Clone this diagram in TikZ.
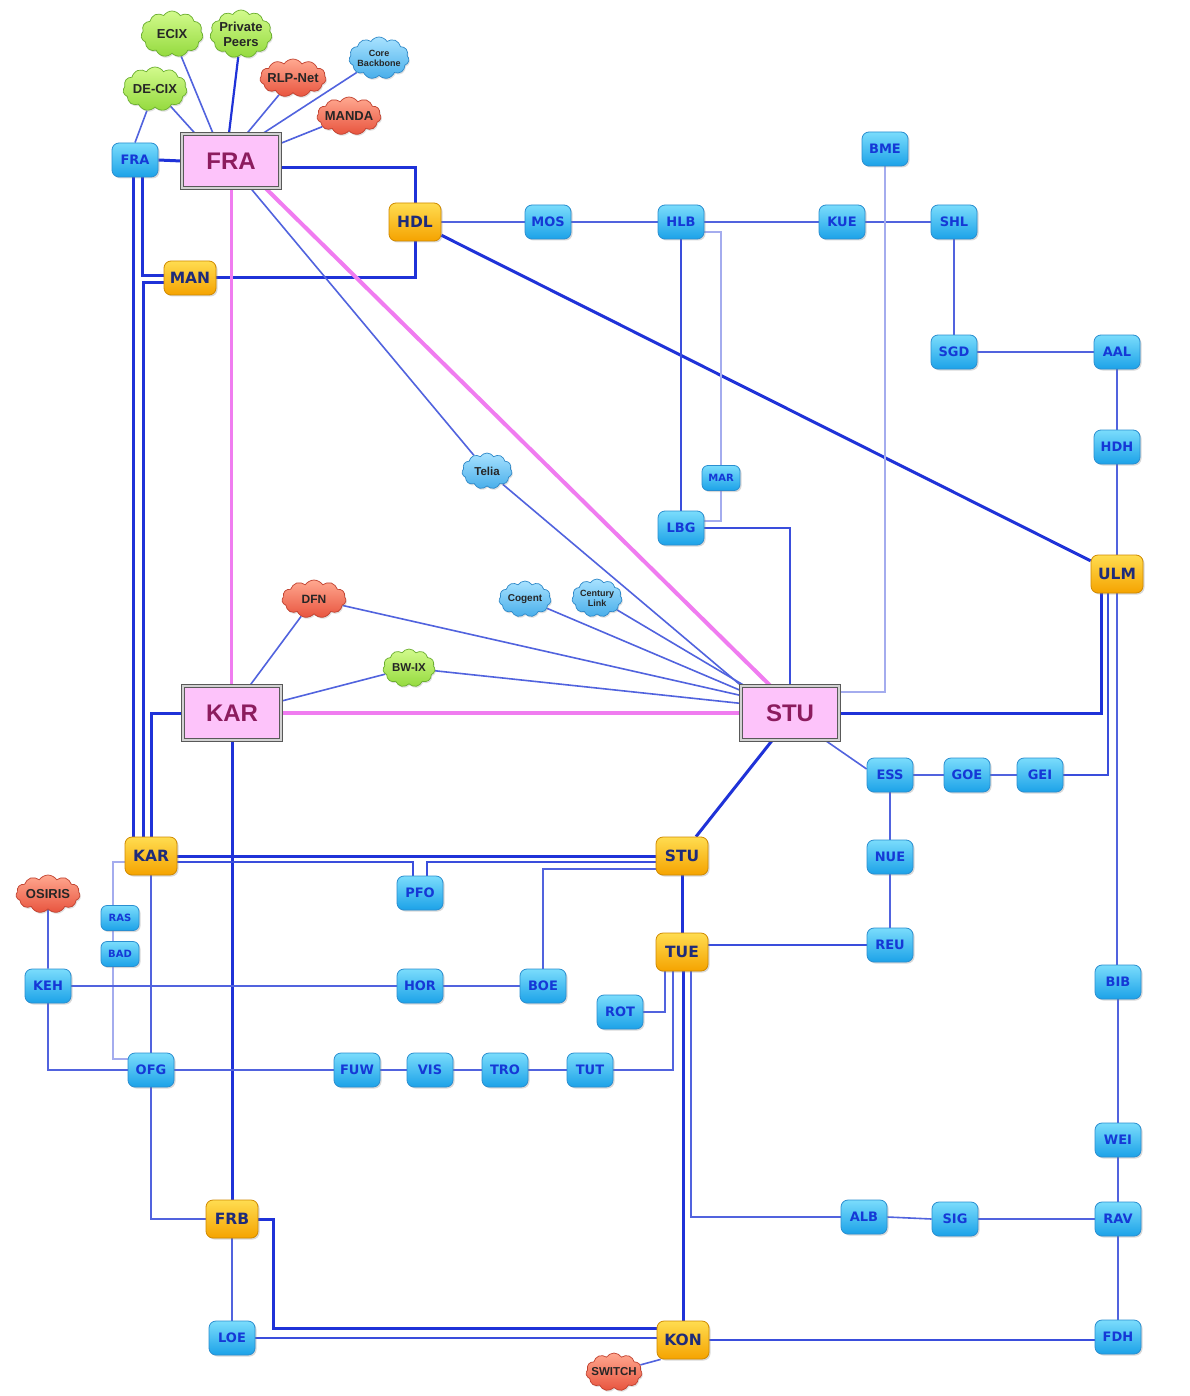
\documentclass[tikz,border=0pt]{standalone}
\usepackage{fontspec}
\setmainfont{DejaVu Sans}
\newfontfamily\bigfont{Liberation Sans}
\usetikzlibrary{shapes.symbols,shadows,calc}
\pgfdeclarelayer{bg}
\pgfsetlayers{bg,main}
\definecolor{bTop}{HTML}{7ADCFC}
\definecolor{bBot}{HTML}{1CA2E8}
\definecolor{bEdge}{HTML}{2A8ED0}
\definecolor{bText}{HTML}{1538D6}
\definecolor{yTop}{HTML}{FFDC50}
\definecolor{yBot}{HTML}{F5A300}
\definecolor{yEdge}{HTML}{D08A00}
\definecolor{yText}{HTML}{1E2B7A}
\definecolor{pFill}{HTML}{FDC3FA}
\definecolor{pText}{HTML}{8C1C5E}
\definecolor{gTop}{HTML}{D2FA8C}
\definecolor{gBot}{HTML}{94DA3E}
\definecolor{gEdge}{HTML}{6AAE2E}
\definecolor{rTop}{HTML}{FFA890}
\definecolor{rBot}{HTML}{E8543E}
\definecolor{rEdge}{HTML}{C0402E}
\definecolor{cTop}{HTML}{A8E2FF}
\definecolor{cBot}{HTML}{48AEEA}
\definecolor{cEdge}{HTML}{2E88C8}
\definecolor{lnStrong}{HTML}{1F32D8}
\definecolor{lnMid}{HTML}{3A4EDC}
\definecolor{lnThin}{HTML}{5163DE}
\definecolor{lnLight}{HTML}{A4ACEE}
\definecolor{lnPink}{HTML}{F07CF0}
\tikzset{
  sitebox/.style={rectangle, rounded corners=7pt, draw=bEdge, line width=0.8pt,
    top color=bTop, bottom color=bBot, text=bText,
    font=\fontsize{13}{14}\selectfont\bfseries,
    minimum width=46pt, minimum height=34pt, inner sep=1pt,
    drop shadow={shadow xshift=1.5pt,shadow yshift=-1.5pt,opacity=0.3}},
  smallsite/.style={sitebox, minimum width=38pt, minimum height=25pt, rounded corners=6pt,
    font=\fontsize{10}{11}\selectfont\bfseries},
  hubbox/.style={sitebox, draw=yEdge, top color=yTop, bottom color=yBot, text=yText,
    minimum width=52pt, minimum height=38pt, font=\fontsize{15.5}{16}\selectfont\bfseries},
  corebox/.style={rectangle, draw=gray!70!black, line width=1.3pt, double=gray!35,
    double distance=2pt, fill=pFill, text=pText, minimum width=98pt, minimum height=54pt,
    font=\bigfont\bfseries\fontsize{24}{26}\selectfont,
    drop shadow={shadow xshift=1.5pt,shadow yshift=-1.5pt,opacity=0.35}},
  cloudnode/.style={cloud, cloud puffs=11, cloud puff arc=115, cloud ignores aspect,
    inner sep=0pt, line width=0.7pt,
    drop shadow={shadow xshift=1pt,shadow yshift=-1.5pt,opacity=0.25}},
  gcloud/.style={cloudnode, draw=gEdge, top color=gTop, bottom color=gBot},
  rcloud/.style={cloudnode, draw=rEdge, top color=rTop, bottom color=rBot},
  ccloud/.style={cloudnode, draw=cEdge, top color=cTop, bottom color=cBot},
  cloudtext/.style={font=\bigfont\bfseries\fontsize{13}{15}\selectfont, text=black!85,
    align=center, inner sep=0pt},
  lkStrong/.style={draw=lnStrong, line width=3pt},
  lkMid/.style={draw=lnMid, line width=2.2pt},
  lkThin/.style={draw=lnThin, line width=1.6pt},
  lkLight/.style={draw=lnLight, line width=1.4pt},
  lkPink/.style={draw=lnPink, line width=3pt}
}
\begin{document}
\begin{tikzpicture}[x=1pt,y=-1pt]
\useasboundingbox (0,0) rectangle (1189,1396);
\begin{pgfonlayer}{bg}
\fill[white] (0,0) rectangle (1189,1396);
\end{pgfonlayer}

% core nodes
\node[corebox] (FRA) at (231,161) {FRA};
\node[corebox] (KAR) at (232,713) {KAR};
\node[corebox] (STU) at (790,713) {STU};

% hubs
\node[hubbox] (HDL) at (415,222) {HDL};
\node[hubbox, minimum height=34pt] (MAN) at (190,278) {MAN};
\node[hubbox] (ULM) at (1117,574) {ULM};
\node[hubbox] (KARy) at (151,856) {KAR};
\node[hubbox] (STUy) at (682,856) {STU};
\node[hubbox] (TUE) at (682,952) {TUE};
\node[hubbox] (FRB) at (232,1219) {FRB};
\node[hubbox] (KON) at (683,1340) {KON};

% sites
\node[sitebox] (FRAs) at (135,160) {FRA};
\node[sitebox] (BME) at (885,149) {BME};
\node[sitebox] (MOS) at (548,222) {MOS};
\node[sitebox] (HLB) at (681,222) {HLB};
\node[sitebox] (KUE) at (842,222) {KUE};
\node[sitebox] (SHL) at (954,222) {SHL};
\node[sitebox] (SGD) at (954,352) {SGD};
\node[sitebox] (AAL) at (1117,352) {AAL};
\node[sitebox] (HDH) at (1117,447) {HDH};
\node[smallsite] (MAR) at (721,478) {MAR};
\node[sitebox] (LBG) at (681,528) {LBG};
\node[sitebox] (ESS) at (890,775) {ESS};
\node[sitebox] (GOE) at (967,775) {GOE};
\node[sitebox] (GEI) at (1040,775) {GEI};
\node[sitebox] (NUE) at (890,857) {NUE};
\node[sitebox] (REU) at (890,945) {REU};
\node[sitebox] (PFO) at (420,893) {PFO};
\node[smallsite] (RAS) at (120,918) {RAS};
\node[smallsite] (BAD) at (120,954) {BAD};
\node[sitebox] (KEH) at (48,986) {KEH};
\node[sitebox] (HOR) at (420,986) {HOR};
\node[sitebox] (BOE) at (543,986) {BOE};
\node[sitebox] (ROT) at (620,1012) {ROT};
\node[sitebox] (OFG) at (151,1070) {OFG};
\node[sitebox] (FUW) at (357,1070) {FUW};
\node[sitebox] (VIS) at (430,1070) {VIS};
\node[sitebox] (TRO) at (505,1070) {TRO};
\node[sitebox] (TUT) at (590,1070) {TUT};
\node[sitebox] (BIB) at (1118,982) {BIB};
\node[sitebox] (WEI) at (1118,1140) {WEI};
\node[sitebox] (RAV) at (1118,1219) {RAV};
\node[sitebox] (ALB) at (864,1217) {ALB};
\node[sitebox] (SIG) at (955,1219) {SIG};
\node[sitebox] (FDH) at (1118,1337) {FDH};
\node[sitebox] (LOE) at (232,1338) {LOE};

% clouds
\node[gcloud, minimum width=62pt, minimum height=46pt, label={[cloudtext]center:ECIX}] (ECIX) at (172,34) {};
\node[gcloud, minimum width=62pt, minimum height=48pt, label={[cloudtext]center:{Private\\Peers}}] (PRIV) at (241,34) {};
\node[gcloud, minimum width=64pt, minimum height=44pt, label={[cloudtext]center:DE-CIX}] (DECIX) at (155,89) {};
\node[rcloud, minimum width=66pt, minimum height=38pt, label={[cloudtext]center:RLP-Net}] (RLP) at (293,78) {};
\node[ccloud, minimum width=60pt, minimum height=42pt, label={[cloudtext, font=\bigfont\bfseries\fontsize{9}{10}\selectfont]center:{Core\\Backbone}}] (CORE) at (379,58) {};
\node[rcloud, minimum width=64pt, minimum height=38pt, label={[cloudtext]center:MANDA}] (MANDA) at (349,116) {};
\node[ccloud, minimum width=50pt, minimum height=36pt, label={[cloudtext, font=\bigfont\bfseries\fontsize{11.5}{12}\selectfont]center:Telia}] (TELIA) at (487,471) {};
\node[rcloud, minimum width=64pt, minimum height=38pt, label={[cloudtext, font=\bigfont\bfseries\fontsize{12}{12}\selectfont]center:DFN}] (DFN) at (314,599) {};
\node[ccloud, minimum width=52pt, minimum height=36pt, label={[cloudtext, font=\bigfont\bfseries\fontsize{10}{11}\selectfont]center:Cogent}] (COG) at (525,599) {};
\node[ccloud, minimum width=50pt, minimum height=38pt, label={[cloudtext, font=\bigfont\bfseries\fontsize{9}{10}\selectfont]center:{Century\\Link}}] (CL) at (597,598) {};
\node[gcloud, minimum width=52pt, minimum height=38pt, label={[cloudtext, font=\bigfont\bfseries\fontsize{11.5}{12}\selectfont]center:BW-IX}] (BWIX) at (409,668) {};
\node[rcloud, minimum width=64pt, minimum height=38pt, label={[cloudtext]center:OSIRIS}] (OSIRIS) at (48,894) {};
\node[rcloud, minimum width=56pt, minimum height=38pt, label={[cloudtext, font=\bigfont\bfseries\fontsize{11.5}{12}\selectfont]center:SWITCH}] (SWITCH) at (614,1372) {};

\begin{pgfonlayer}{bg}
% clouds around FRA
\draw[lkThin] (DECIX) -- (FRAs.north);
\draw[lkThin] (DECIX) -- ([xshift=-36pt]FRA.north);
\draw[lkThin] (ECIX) -- ([xshift=-18pt]FRA.north);
\draw[lkMid, draw=lnStrong] (PRIV) -- ([xshift=-2pt]FRA.north);
\draw[lkThin] (RLP) -- ([xshift=16pt]FRA.north);
\draw[lkThin] (CORE) -- ([xshift=32pt]FRA.north);
\draw[lkThin] (MANDA) -- ([yshift=-10pt]FRA.north east);
% FRA area
\draw[lkStrong] (FRAs.east) -- (FRA.west);
\draw[lkStrong] ([xshift=-2pt]FRAs.south) -- ([xshift=-2pt]FRAs.south |- KARy.north);
\draw[lkStrong] ([xshift=7pt]FRAs.south) |- ([yshift=2pt]MAN.west);
\draw[lkStrong] ([yshift=-5pt]MAN.west) -| ([xshift=-8pt]KARy.north);
\draw[lkStrong] ([yshift=-7pt]FRA.east) -| (HDL.north);
\draw[lkStrong] (HDL.south) |- (MAN.east);
\draw[lkPink, line width=3pt] (FRA.south) -- (FRA.south |- KAR.north);
\draw[lkPink, line width=4pt] ([xshift=35pt]FRA.south) -- ([xshift=-20pt]STU.north);
\draw[lkThin] ([xshift=20pt]FRA.south) -- (TELIA);
\draw[lkThin] (TELIA) -- ([xshift=4pt,yshift=-3pt]STU.north west);
\draw[lkPink, line width=3.2pt] (KAR.east) -- (STU.west);
\draw[lkThin] ([xshift=18pt]KAR.north) -- (DFN);
\draw[lkThin] ([yshift=12pt]KAR.east) -- (BWIX);
\draw[lkThin] (DFN) -- ([yshift=-10pt]STU.north west);
\draw[lkThin] (BWIX) -- ([yshift=-18pt]STU.north west);
\draw[lkThin] (COG) -- ([yshift=-5pt]STU.north west);
\draw[lkThin] (CL) -- ([xshift=7pt,yshift=-2pt]STU.north west);
% top right
\draw[lkThin] (HDL.east) -- (MOS.west);
\draw[lkThin] (MOS.east) -- (HLB.west);
\draw[lkThin] (HLB.east) -- (KUE.west);
\draw[lkThin] (KUE.east) -- (SHL.west);
\draw[lkStrong] (HDL) -- (ULM);
\draw[lkLight] (BME.south) |- ([yshift=21pt]STU.east);
\draw[lkMid] (HLB.south) -- (LBG.north);
\draw[lkLight] ([yshift=-10pt]HLB.east) -| (MAR.north);
\draw[lkLight] (MAR.south) |- ([yshift=7pt]LBG.east);
\draw[lkMid] (LBG.east) -| (STU.north);
\draw[lkThin] (SHL.south) -- (SGD.north);
\draw[lkThin] (SGD.east) -- (AAL.west);
\draw[lkThin] (AAL.south) -- (HDH.north);
\draw[lkThin] (HDH.south) -- (ULM.north);
\draw[lkStrong] ([xshift=-16pt]ULM.south) |- (STU.east);
\draw[lkMid] ([xshift=-9pt]ULM.south) |- (GEI.east);
\draw[lkThin] (ULM.south) -- (ULM.south |- BIB.north);
\draw[lkThin] (BIB.south) -- (WEI.north);
\draw[lkThin] (WEI.south) -- (RAV.north);
\draw[lkThin] (RAV.south) -- (FDH.north);
\draw[lkThin] (ALB.east) -- (SIG.west);
\draw[lkThin] (SIG.east) -- (RAV.west);
\draw[lkThin] ([xshift=-14pt]STU.south east) -- ([yshift=6pt]ESS.west);
\draw[lkThin] (ESS.east) -- (GOE.west);
\draw[lkThin] (GOE.east) -- (GEI.west);
\draw[lkThin] (ESS.south) -- (NUE.north);
\draw[lkThin] (NUE.south) -- (REU.north);
% middle
\draw[lkStrong] ([xshift=-18pt]STU.south) -- ([xshift=14pt]STUy.north);
\draw[lkStrong] (KAR.south) -- (FRB.north);
\draw[lkStrong] (KAR.west) -| (KARy.north);
\draw[lkStrong] (KARy.east) -- (STUy.west);
\draw[lkMid] ([yshift=-6pt]KARy.east) -| ([xshift=-7pt]PFO.north);
\draw[lkMid] ([yshift=-6pt]STUy.west) -| ([xshift=7pt]PFO.north);
\draw[lkThin] ([yshift=-13pt]STUy.west) -| (BOE.north);
\draw[lkStrong] (STUy.south) -- (TUE.north);
\draw[lkMid] ([yshift=7pt]TUE.east) -- (REU.west);
\draw[lkThin] ([xshift=-17pt]TUE.south) |- (ROT.east);
\draw[lkThin] ([xshift=-9pt]TUE.south) |- (TUT.east);
\draw[lkStrong] ([xshift=1pt]TUE.south) -- (KON.north);
\draw[lkThin] ([xshift=9pt]TUE.south) |- (ALB.west);
% left
\draw[lkLight] ([yshift=-6pt]KARy.west) -| ([xshift=-7pt]RAS.north);
\draw[lkLight] ([xshift=-7pt]RAS.south) -- ([xshift=-7pt]BAD.north);
\draw[lkLight] ([xshift=-7pt]BAD.south) |- ([yshift=11pt]OFG.west);
\draw[lkThin] (KARy.south) -- (OFG.north);
\draw[lkThin] (OSIRIS) -- (KEH.north);
\draw[lkThin] (KEH.east) -- (HOR.west);
\draw[lkThin] (HOR.east) -- (BOE.west);
\draw[lkThin] (KEH.south) |- (OFG.west);
\draw[lkThin] (OFG.east) -- (FUW.west);
\draw[lkThin] (FUW.east) -- (VIS.west);
\draw[lkThin] (VIS.east) -- (TRO.west);
\draw[lkThin] (TRO.east) -- (TUT.west);
\draw[lkThin] (OFG.south) |- (FRB.west);
\draw[lkThin] (FRB.south) -- (LOE.north);
\draw[lkStrong] (FRB.east) -- ++(15,0) |- ([yshift=12pt]KON.west);
\draw[lkMid] (LOE.east) -- (LOE.east -| KON.west);
\draw[lkMid] (KON.east) -- (KON.east -| FDH.west);
\draw[lkThin] ([xshift=4pt]KON.south west) -- (SWITCH);
\end{pgfonlayer}
\end{tikzpicture}
\end{document}
